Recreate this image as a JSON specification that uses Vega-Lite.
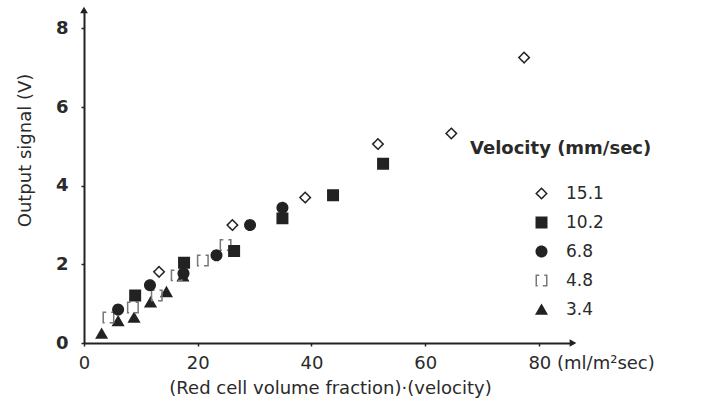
{
  "$schema": "https://vega.github.io/schema/vega-lite/v6.json",
  "width": 489,
  "height": 333,
  "autosize": {"type": "none"},
  "padding": {"left": 84, "top": 10, "right": 128, "bottom": 68},
  "background": "white",
  "config": {
    "view": {"stroke": null},
    "font": "DejaVu Sans",
    "axis": {
      "grid": false,
      "domainColor": "#222222",
      "domainWidth": 2,
      "tickColor": "#222222",
      "tickWidth": 1.5,
      "tickSize": 3,
      "labelColor": "#2a2a2a",
      "titleColor": "#2a2a2a"
    }
  },
  "encoding": {
    "x": {
      "field": "x",
      "type": "quantitative",
      "scale": {"domain": [0, 86], "nice": false, "zero": true},
      "axis": {
        "values": [0, 20, 40, 60, 80],
        "title": "(Red cell volume fraction)·(velocity)",
        "titleFontSize": 18,
        "titleFontWeight": "normal",
        "titleX": 246,
        "titleY": 36,
        "titleAlign": "center",
        "titleBaseline": "top",
        "labelFontSize": 18,
        "labelPadding": 8,
        "labelFlush": false,
        "labelOverlap": false,
        "labelBound": false,
        "labelExpr": "datum.value == 80 ? '80 (ml/m²sec)' : datum.label",
        "labelAlign": {"condition": {"test": "datum.value == 80", "value": "left"}, "value": "center"},
        "labelOffset": {"condition": {"test": "datum.value == 80", "value": -11}, "value": 0}
      }
    },
    "y": {
      "field": "y",
      "type": "quantitative",
      "scale": {"domain": [0, 8.47], "nice": false, "zero": true},
      "axis": {
        "values": [0, 2, 4, 6, 8],
        "title": "Output signal (V)",
        "titleFontSize": 18,
        "titleFontWeight": "normal",
        "titleX": -59,
        "titleY": 140,
        "titleAngle": -90,
        "titleAlign": "center",
        "titleBaseline": "middle",
        "labelFontSize": 18,
        "labelFontWeight": "bold",
        "labelPadding": 13,
        "labelFlush": false
      }
    }
  },
  "layer": [
    {
      "data": {
        "values": [
          {"x": 3.1, "y": 0.24, "velocity": "3.4"},
          {"x": 6.0, "y": 0.56, "velocity": "3.4"},
          {"x": 8.8, "y": 0.65, "velocity": "3.4"},
          {"x": 11.7, "y": 1.04, "velocity": "3.4"},
          {"x": 14.5, "y": 1.30, "velocity": "3.4"},
          {"x": 17.4, "y": 1.70, "velocity": "3.4"},
          {"x": 4.3, "y": 0.65, "velocity": "4.8"},
          {"x": 8.6, "y": 0.90, "velocity": "4.8"},
          {"x": 12.8, "y": 1.21, "velocity": "4.8"},
          {"x": 16.3, "y": 1.72, "velocity": "4.8"},
          {"x": 20.9, "y": 2.10, "velocity": "4.8"},
          {"x": 24.9, "y": 2.49, "velocity": "4.8"},
          {"x": 6.0, "y": 0.85, "velocity": "6.8"},
          {"x": 11.6, "y": 1.47, "velocity": "6.8"},
          {"x": 17.5, "y": 1.77, "velocity": "6.8"},
          {"x": 23.3, "y": 2.23, "velocity": "6.8"},
          {"x": 29.2, "y": 3.00, "velocity": "6.8"},
          {"x": 34.9, "y": 3.44, "velocity": "6.8"},
          {"x": 9.0, "y": 1.21, "velocity": "10.2"},
          {"x": 17.6, "y": 2.04, "velocity": "10.2"},
          {"x": 26.4, "y": 2.34, "velocity": "10.2"},
          {"x": 34.9, "y": 3.17, "velocity": "10.2"},
          {"x": 43.8, "y": 3.76, "velocity": "10.2"},
          {"x": 52.6, "y": 4.56, "velocity": "10.2"},
          {"x": 13.2, "y": 1.81, "velocity": "15.1"},
          {"x": 26.1, "y": 3.00, "velocity": "15.1"},
          {"x": 38.9, "y": 3.70, "velocity": "15.1"},
          {"x": 51.7, "y": 5.06, "velocity": "15.1"},
          {"x": 64.6, "y": 5.33, "velocity": "15.1"},
          {"x": 77.4, "y": 7.26, "velocity": "15.1"}
        ]
      },
      "mark": {"type": "point", "filled": true, "size": 110, "strokeWidth": 1.5, "opacity": 1},
      "encoding": {
        "shape": {
          "field": "velocity", "type": "nominal",
          "scale": {"domain": ["15.1", "10.2", "6.8", "4.8", "3.4"], "range": ["diamond", "square", "circle", "square", "triangle-up"]},
          "legend": {"title": "Velocity (mm/sec)", "orient": "none", "legendX": 386, "legendY": 130, "titleFontSize": 18, "titleFontWeight": "bold", "titleColor": "#2a2a2a", "titlePadding": 27, "titleLimit": 400, "labelFontSize": 17, "labelColor": "#2a2a2a", "symbolOffset": 63, "labelOffset": 16, "rowPadding": 11, "symbolSize": 110, "symbolStrokeWidth": 1.5, "labelExpr": "length(datum.label) < 4 ? ' ' + datum.label : datum.label"}
        },
        "fill": {
          "field": "velocity", "type": "nominal",
          "scale": {"domain": ["15.1", "10.2", "6.8", "4.8", "3.4"], "range": ["white", "#222222", "#222222", "transparent", "#222222"]},
          "legend": {"title": "Velocity (mm/sec)", "orient": "none", "legendX": 386, "legendY": 130, "titleFontSize": 18, "titleFontWeight": "bold", "titleColor": "#2a2a2a", "titlePadding": 27, "titleLimit": 400, "labelFontSize": 17, "labelColor": "#2a2a2a", "symbolOffset": 63, "labelOffset": 16, "rowPadding": 11, "symbolSize": 110, "symbolStrokeWidth": 1.5, "labelExpr": "length(datum.label) < 4 ? ' ' + datum.label : datum.label"}
        },
        "stroke": {
          "field": "velocity", "type": "nominal",
          "scale": {"domain": ["15.1", "10.2", "6.8", "4.8", "3.4"], "range": ["#222222", "#222222", "#222222", "#777777", "#222222"]},
          "legend": {"title": "Velocity (mm/sec)", "orient": "none", "legendX": 386, "legendY": 130, "titleFontSize": 18, "titleFontWeight": "bold", "titleColor": "#2a2a2a", "titlePadding": 27, "titleLimit": 400, "labelFontSize": 17, "labelColor": "#2a2a2a", "symbolOffset": 63, "labelOffset": 16, "rowPadding": 11, "symbolSize": 110, "symbolStrokeWidth": 1.5, "labelExpr": "length(datum.label) < 4 ? ' ' + datum.label : datum.label"}
        },
        "strokeDash": {
          "field": "velocity", "type": "nominal",
          "scale": {"domain": ["15.1", "10.2", "6.8", "4.8", "3.4"], "range": [[1, 0], [1, 0], [1, 0], [3, 5, 17, 5, 14, 0], [1, 0]]},
          "legend": {"title": "Velocity (mm/sec)", "orient": "none", "legendX": 386, "legendY": 130, "titleFontSize": 18, "titleFontWeight": "bold", "titleColor": "#2a2a2a", "titlePadding": 27, "titleLimit": 400, "labelFontSize": 17, "labelColor": "#2a2a2a", "symbolOffset": 63, "labelOffset": 16, "rowPadding": 11, "symbolSize": 110, "symbolStrokeWidth": 1.5, "labelExpr": "length(datum.label) < 4 ? ' ' + datum.label : datum.label"}
        }
      }
    },
    {
      "data": {"values": [{"x": 86, "y": 0}, {"x": 0, "y": 8.47}]},
      "mark": {"type": "point", "filled": true, "size": 60, "color": "#222222", "opacity": 1},
      "encoding": {
        "shape": {"condition": {"test": "datum.x > 0", "value": "triangle-right"}, "value": "triangle-up"}
      }
    }
  ]
}
